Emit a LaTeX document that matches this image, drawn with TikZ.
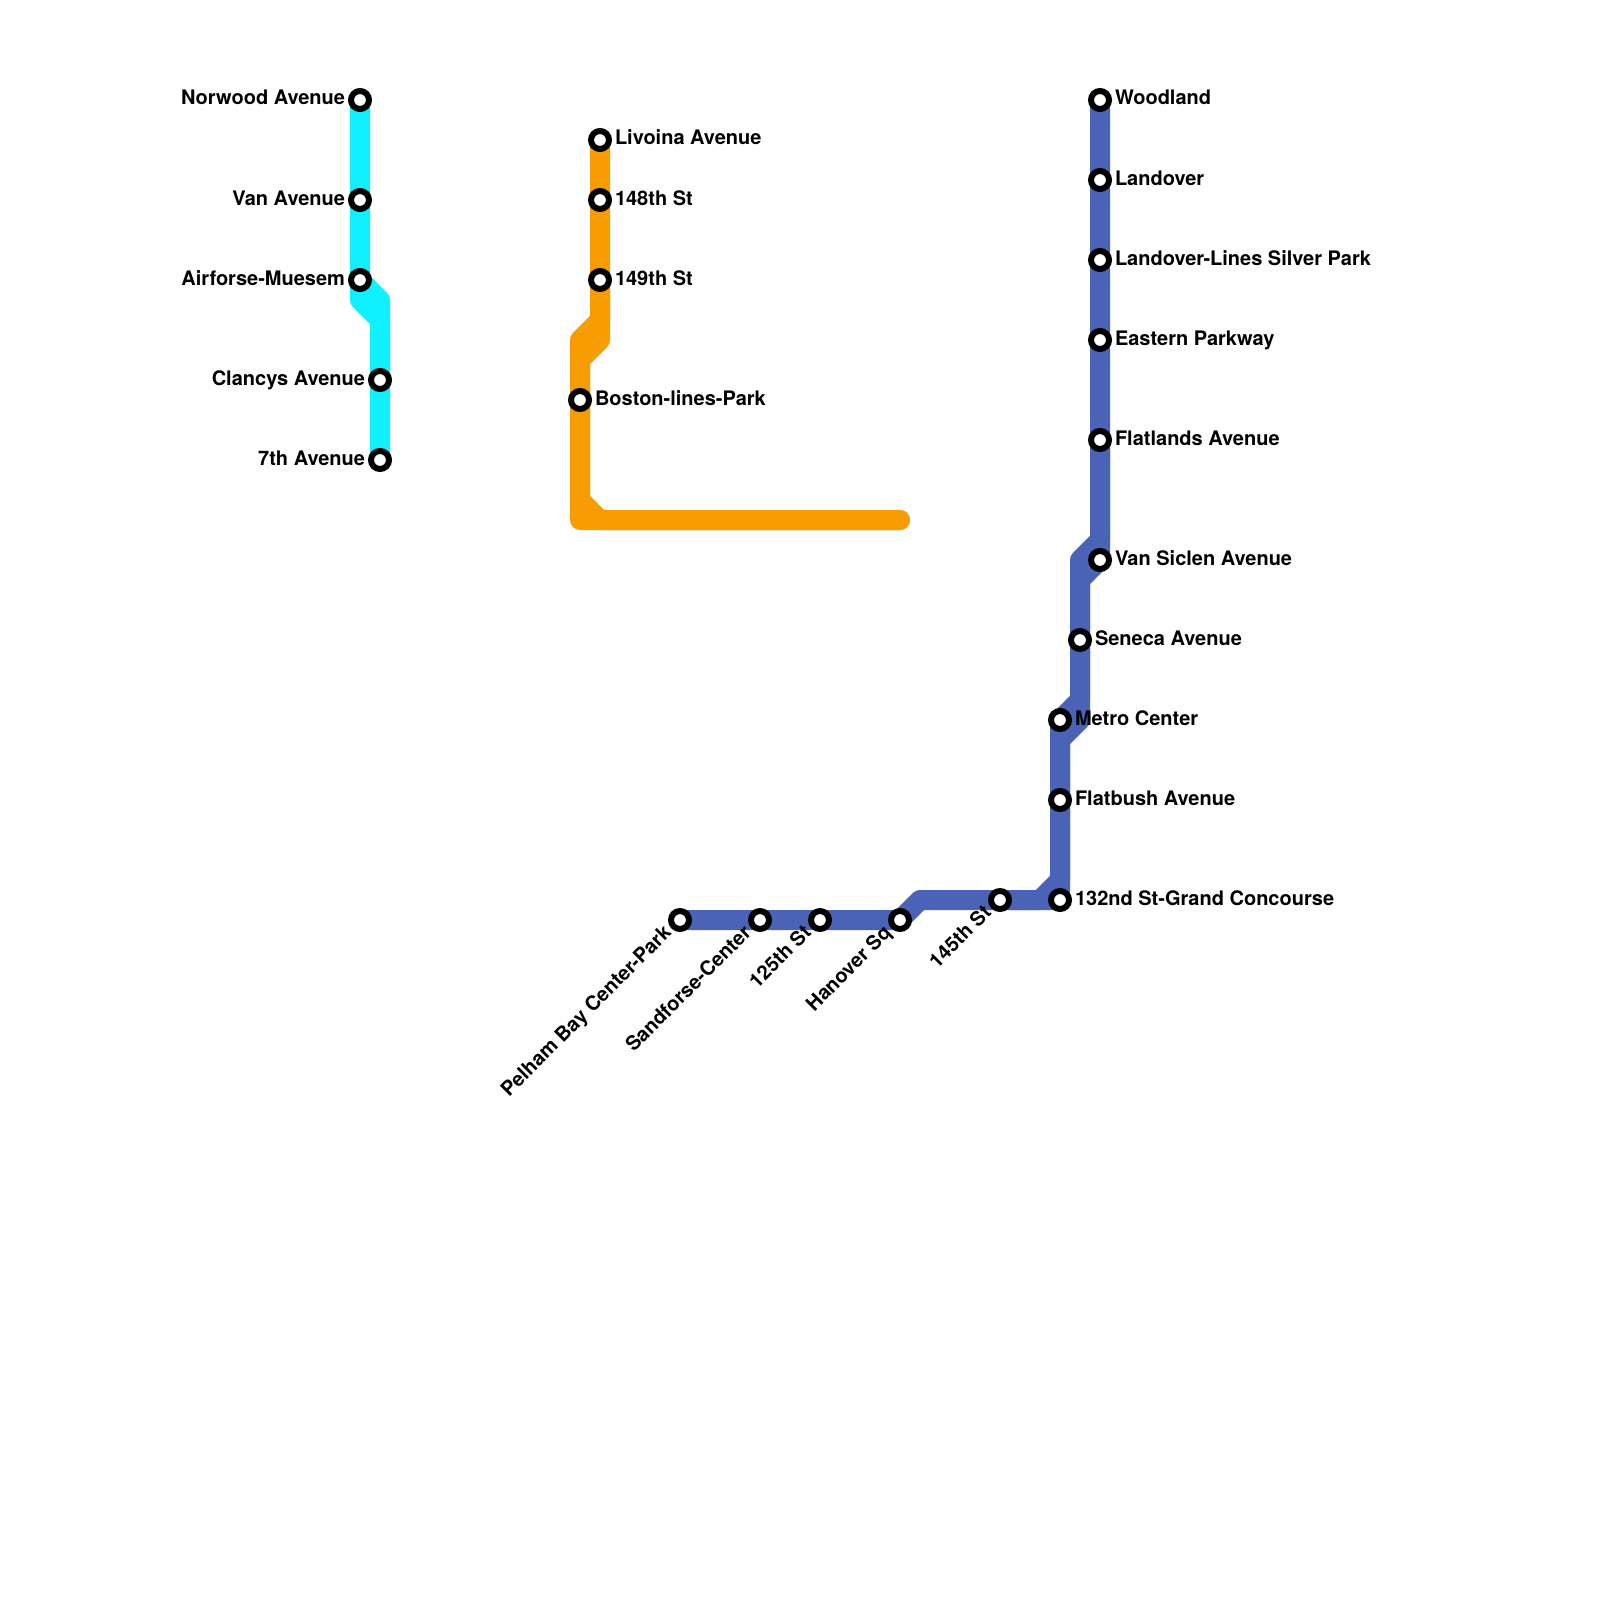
\documentclass[tikz,border=0pt]{standalone}
\usepackage{fontspec}
\setmainfont{TeX Gyre Heros}
\usetikzlibrary{backgrounds}
\definecolor{cyanline}{HTML}{10F0FE}
\definecolor{orangeline}{HTML}{F89C04}
\definecolor{blueline}{HTML}{4A63B6}
\tikzset{
  stn/.style={circle,draw=black,fill=white,line width=6pt,minimum size=18pt,inner sep=0pt,outer sep=0pt},
  metro/.style={line width=20pt,line join=round,line cap=round},
  lab/.style={font=\bfseries\fontsize{20}{22}\selectfont,text=black,inner sep=0pt,outer sep=0pt},
  labr/.style={lab,anchor=base west},
  labl/.style={lab,anchor=base east},
  labd/.style={lab,anchor=base east,rotate=45},
}
\begin{document}
\begin{tikzpicture}[x=1pt,y=-1pt]
\useasboundingbox (0,0) rectangle (1600,1600);
% cyan stations
\node[stn] (norwood) at (360,100) {};
\node[stn] (van) at (360,200) {};
\node[stn] (airforse) at (360,280) {};
\node[stn] (clancys) at (380,380) {};
\node[stn] (seventh) at (380,460) {};
% orange stations
\node[stn] (livoina) at (600,140) {};
\node[stn] (s148) at (600,200) {};
\node[stn] (s149) at (600,280) {};
\node[stn] (boston) at (580,400) {};
% blue stations
\node[stn] (pelham) at (680,920) {};
\node[stn] (sandforse) at (760,920) {};
\node[stn] (s125) at (820,920) {};
\node[stn] (hanover) at (900,920) {};
\node[stn] (s145) at (1000,900) {};
\node[stn] (s132) at (1060,900) {};
\node[stn] (flatbush) at (1060,800) {};
\node[stn] (metroc) at (1060,720) {};
\node[stn] (seneca) at (1080,640) {};
\node[stn] (siclen) at (1100,560) {};
\node[stn] (flatlands) at (1100,440) {};
\node[stn] (eastern) at (1100,340) {};
\node[stn] (lines) at (1100,260) {};
\node[stn] (landover) at (1100,180) {};
\node[stn] (woodland) at (1100,100) {};
% free ends and bends
\coordinate (oend) at (900,520);
\coordinate (c1) at (380,300);
\coordinate (c2) at (360,300);
\coordinate (c3) at (380,320);
\coordinate (o1) at (600,320);
\coordinate (o2) at (580,340);
\coordinate (o3) at (600,340);
\coordinate (o4) at (580,360);
\coordinate (o5) at (580,500);
\coordinate (o6) at (600,520);
\coordinate (o7) at (580,520);
\coordinate (b1) at (920,900);
\coordinate (b2) at (1040,900);
\coordinate (b3) at (1060,880);
\coordinate (b4) at (1080,700);
\coordinate (b5) at (1060,740);
\coordinate (b6) at (1080,720);
\coordinate (b7) at (1080,560);
\coordinate (b8) at (1100,540);
\coordinate (b9) at (1080,580);
\begin{scope}[on background layer]
\fill[white] (0,0) rectangle (1600,1600);
\draw[metro,cyanline] (norwood.center) -- (van.center) -- (airforse.center) -- (c1) -- (clancys.center) -- (seventh.center);
\draw[metro,cyanline] (airforse.center) -- (c2) -- (c3) -- (clancys.center);
\draw[metro,orangeline] (livoina.center) -- (s148.center) -- (s149.center) -- (o3) -- (o4) -- (boston.center) -- (o7) -- (oend);
\draw[metro,orangeline] (s149.center) -- (o1) -- (o2) -- (boston.center) -- (o5) -- (o6) -- (oend);
\draw[metro,blueline] (pelham.center) -- (sandforse.center) -- (s125.center) -- (hanover.center) -- (b1) -- (s145.center) -- (s132.center) -- (flatbush.center) -- (b5) -- (b6) -- (seneca.center) -- (b9) -- (siclen.center) -- (flatlands.center) -- (eastern.center) -- (lines.center) -- (landover.center) -- (woodland.center);
\draw[metro,blueline] (s145.center) -- (b2) -- (b3) -- (flatbush.center) -- (metroc.center) -- (b4) -- (seneca.center) -- (b7) -- (b8) -- (flatlands.center);
\end{scope}
% labels
\node[labl] (tnorwood) at (345,105) {Norwood Avenue};
\node[labl] (tvan) at (345,205) {Van Avenue};
\node[labl] (tairforse) at (345,285) {Airforse-Muesem};
\node[labl] (tclancys) at (365,385) {Clancys Avenue};
\node[labl] (tseventh) at (365,465) {7th Avenue};
\node[labr] (tlivoina) at (615,145) {Livoina Avenue};
\node[labr] (t148) at (615,205) {148th St};
\node[labr] (t149) at (615,285) {149th St};
\node[labr] (tboston) at (595,405) {Boston-lines-Park};
\node[labr] (twoodland) at (1115,105) {Woodland};
\node[labr] (tlandover) at (1115,185) {Landover};
\node[labr] (tlines) at (1115,265) {Landover-Lines Silver Park};
\node[labr] (teastern) at (1115,345) {Eastern Parkway};
\node[labr] (tflatlands) at (1115,445) {Flatlands Avenue};
\node[labr] (tsiclen) at (1115,565) {Van Siclen Avenue};
\node[labr] (tseneca) at (1095,645) {Seneca Avenue};
\node[labr] (tmetro) at (1075,725) {Metro Center};
\node[labr] (tflatbush) at (1075,805) {Flatbush Avenue};
\node[labr] (t132) at (1075,905) {132nd St-Grand Concourse};
\node[labd] (tpelham) at (672.3,934.1) {Pelham Bay Center-Park};
\node[labd] (tsandforse) at (752.3,934.1) {Sandforse-Center};
\node[labd] (t125) at (812.3,934.1) {125th St};
\node[labd] (thanover) at (892.3,934.1) {Hanover Sq};
\node[labd] (t145) at (992.3,914.1) {145th St};
\end{tikzpicture}
\end{document}
